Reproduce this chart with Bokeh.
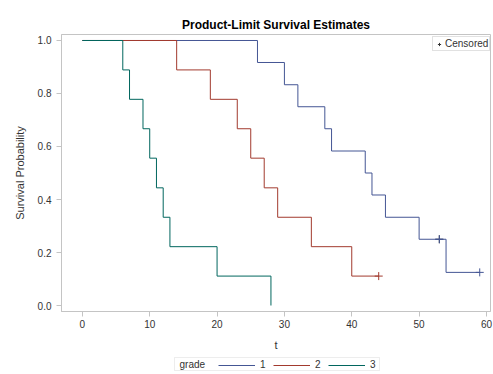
from bokeh.plotting import figure
from bokeh.layouts import column
from bokeh.models import (Range1d, FixedTicker, Legend, LegendItem, NumeralTickFormatter,
                          BoxAnnotation, Label)
from bokeh.embed import file_html
from bokeh.resources import INLINE

title_text = "Product-Limit Survival Estimates"
x_label = "t"
y_label = "Survival Probability"
legend_title = "grade"
censored_label = "Censored"
groups = ["1", "2", "3"]
colors = ["#445694", "#A23A2E", "#01665E"]

x_ticks = [0, 10, 20, 30, 40, 50, 60]
y_ticks = [0.0, 0.2, 0.4, 0.6, 0.8, 1.0]

# grade 1
g1_t = [0, 26, 30, 32, 36, 37, 42, 43, 45, 50, 54, 59]
g1_s = [1.0, 0.917, 0.833, 0.75, 0.667, 0.583, 0.5, 0.417, 0.333, 0.25, 0.125, 0.125]
g1_cens_t = [53, 59]
g1_cens_s = [0.25, 0.125]
# grade 2
g2_t = [0, 14, 19, 23, 25, 27, 29, 34, 40, 44]
g2_s = [1.0, 0.889, 0.778, 0.667, 0.556, 0.444, 0.333, 0.222, 0.111, 0.111]
g2_cens_t = [44]
g2_cens_s = [0.111]
# grade 3
g3_t = [0, 6, 7, 9, 10, 11, 12, 13, 20, 28]
g3_s = [1.0, 0.889, 0.778, 0.667, 0.556, 0.444, 0.333, 0.222, 0.111, 0.0]
g3_cens_t = []
g3_cens_s = []

series = [
    (g1_t, g1_s, g1_cens_t, g1_cens_s),
    (g2_t, g2_s, g2_cens_t, g2_cens_s),
    (g3_t, g3_s, g3_cens_t, g3_cens_s),
]


def step_path(t, s):
    xs, ys = [t[0]], [s[0]]
    for i in range(1, len(t)):
        xs += [t[i], t[i]]
        ys += [s[i - 1], s[i]]
    return xs, ys


FONT = "Liberation Sans"
GRAY = "#c4c4c4"
TXT = "#333333"

W, H_MAIN, H_LEG = 493, 355, 19
FRAME_L, FRAME_R = 61, 490

p = figure(width=W, height=H_MAIN, output_backend="svg", toolbar_location=None,
           x_range=Range1d(-3.1, 60.6), y_range=Range1d(-0.0226, 1.0226),
           min_border_left=FRAME_L, min_border_right=W - FRAME_R,
           min_border_top=34, min_border_bottom=44,
           title=title_text)

p.title.align = "center"
p.title.text_font = FONT
p.title.text_font_size = "12px"
p.title.text_font_style = "bold"
p.title.text_color = "black"
p.title.standoff = 5

p.grid.visible = False
p.outline_line_color = GRAY
p.background_fill_color = "white"
p.border_fill_color = "white"

for ax in (p.xaxis[0], p.yaxis[0]):
    ax.axis_line_color = GRAY
    ax.major_tick_line_color = GRAY
    ax.minor_tick_line_color = None
    ax.major_tick_out = 5
    ax.major_tick_in = 0
    ax.major_label_text_font = FONT
    ax.major_label_text_font_size = "10px"
    ax.major_label_text_color = TXT
    ax.axis_label_text_font = FONT
    ax.axis_label_text_font_size = "11px"
    ax.axis_label_text_font_style = "normal"
    ax.axis_label_text_color = TXT

p.xaxis.ticker = FixedTicker(ticks=x_ticks)
p.yaxis.ticker = FixedTicker(ticks=y_ticks)
p.yaxis.formatter = NumeralTickFormatter(format="0.0")
p.xaxis.axis_label = x_label
p.yaxis.axis_label = y_label
p.xaxis.major_label_standoff = 3
p.yaxis.major_label_standoff = 5
p.xaxis.axis_label_standoff = 8
p.yaxis.axis_label_standoff = 9

# renderer for the "Censored" legend entry, hidden beneath a real censored mark
cens_r = p.scatter(x=g1_cens_t[:1], y=g1_cens_s[:1], marker="cross", size=8,
                   line_color=TXT, line_width=1)

for name, color, (t, s, ct, cs) in zip(groups, colors, series):
    xs, ys = step_path(t, s)
    p.line(xs, ys, line_color=color, line_width=1)
    if ct:
        p.scatter(ct, cs, marker="cross", size=8, line_color=color, line_width=1)

leg2 = Legend(items=[LegendItem(label=censored_label, renderers=[cens_r])],
              location=(371, 260), orientation="vertical",
              label_text_font=FONT, label_text_font_size="10px", label_text_color=TXT,
              glyph_width=10, glyph_height=8, label_height=8, label_standoff=1,
              padding=1, margin=0,
              border_line_color=GRAY, background_fill_color="white", background_fill_alpha=1.0)
p.add_layout(leg2, "center")

# ---- bottom legend strip; its frame is aligned with the main frame by the column,
# so x and y here are page pixels (y downward) ----
q = figure(width=W, height=H_LEG, output_backend="svg", toolbar_location=None,
           x_range=Range1d(FRAME_L, FRAME_R), y_range=Range1d(H_LEG, 0),
           x_axis_type=None, y_axis_type=None,
           min_border_left=FRAME_L, min_border_right=W - FRAME_R,
           min_border_top=0, min_border_bottom=0)
q.grid.visible = False
q.outline_line_color = None
q.background_fill_color = "white"
q.border_fill_color = "white"

q.add_layout(BoxAnnotation(left=174, right=379, top=2, bottom=15,
                           fill_color="white", fill_alpha=1.0,
                           line_color=GRAY, line_width=1, level="underlay"))
q.add_layout(Label(x=179, y=8.5, text=legend_title, text_font=FONT, text_font_size="10px",
                   text_color=TXT, text_baseline="middle", text_align="left"))

# legend sample renderers: the step data lies left of this strip's range, so only
# the legend samples show
leg_items = []
for name, color, (t, s, ct, cs) in zip(groups, colors, series):
    xs, ys = step_path(t, s)
    r = q.line(xs, ys, line_color=color, line_width=1)
    leg_items.append(LegendItem(label=name, renderers=[r]))

leg = Legend(items=leg_items, orientation="horizontal", location=(218 - FRAME_L, 4),
             label_text_font=FONT, label_text_font_size="10px", label_text_color=TXT,
             glyph_width=37, glyph_height=8, label_height=8, label_width=6, label_standoff=5,
             spacing=7, padding=0, margin=0,
             border_line_color=None, background_fill_alpha=0.0)
q.add_layout(leg, "center")

layout = column(p, q, spacing=0)
open("out.html", "w").write(file_html(layout, INLINE))
